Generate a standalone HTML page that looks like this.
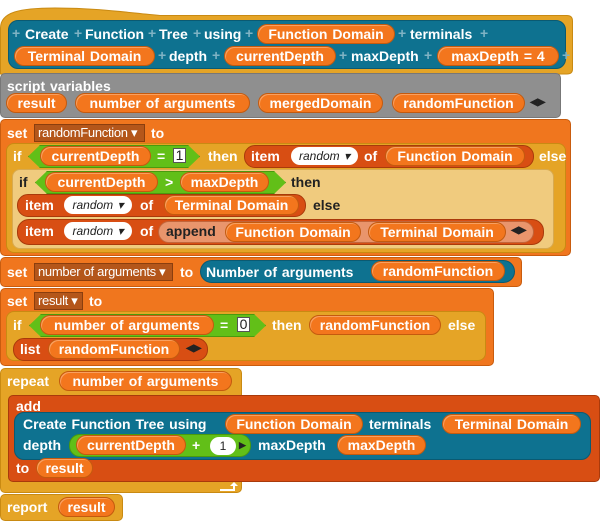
<!DOCTYPE html>
<html><head><meta charset="utf-8"><style>
*{margin:0;padding:0;box-sizing:border-box}
body{width:600px;height:525px;background:#fff;position:relative;overflow:hidden;font:bold 14px "Liberation Sans",sans-serif;color:#fff;word-spacing:1px}
div{position:absolute}
.b{border-radius:5px}
.gold{background:#E5A426;border:1px solid #c98a12}
.teal{background:#0E7290;border:1px solid #0a5a72}
.org{background:#F0761E;border:1px solid #c95c0e}
.dk{background:#D84E13;border:1px solid #a93a0b}
.gray{background:#8F8F8F;border:1px solid #777}
.zeb{background:#F0CB7E;border:1px solid #d8aa50}
.p{background:#F3761D;border:1px solid #c45a0e;border-radius:10px;height:20px;line-height:18px;text-align:center;white-space:nowrap;box-shadow:inset 1px 1px 0 #f9a060}
.t{white-space:nowrap;line-height:18px;height:18px}
.g{background:#62BF18;border:1px solid #4a9a0e;height:23px;clip-path:polygon(12px 0,calc(100% - 12px) 0,100% 50%,calc(100% - 12px) 100%,12px 100%,0 50%)}
.dd{background:#B4561A;border:1px solid #8a3e0e;color:#fff;font-weight:normal;font-size:13px;height:18px;line-height:16px;padding-left:3px;letter-spacing:-0.3px;word-spacing:0}
.w{background:#fff;color:#222;border-radius:9px;height:18px;line-height:18px;font-weight:normal;font-style:italic;font-size:12px;text-align:center}
.box{background:#fff;color:#222;border:1px solid #555;height:15px;line-height:13px;text-align:center;font-weight:normal}
.pl{color:#7fb3c4;font-weight:bold;position:absolute}
</style></head><body>
<!-- hat -->
<svg style="position:absolute;left:0;top:0" width="600" height="80"><path d="M0.5 74 V28 C0.5 12 20 8 55 8 C100 8 130 13 160 15.5 H567 Q572.5 15.5 572.5 21 V69 Q572.5 74 567 74 Z" fill="#E5A426" stroke="#c98a12"/></svg>
<div class="teal b" style="left:8px;top:20px;width:558px;height:49px;border-radius:10px"></div>
<div class="pl" style="left:12px;top:25px">+</div>
<div class="t" style="left:25px;top:25px">Create</div>
<div class="pl" style="left:74px;top:25px">+</div>
<div class="t" style="left:85px;top:25px">Function</div>
<div class="pl" style="left:148px;top:25px">+</div>
<div class="t" style="left:159px;top:25px">Tree</div>
<div class="pl" style="left:193px;top:25px">+</div>
<div class="t" style="left:204px;top:25px">using</div>
<div class="pl" style="left:245px;top:25px">+</div>
<div class="p" style="left:257px;top:24px;width:138px">Function Domain</div>
<div class="pl" style="left:398px;top:25px">+</div>
<div class="t" style="left:410px;top:25px">terminals</div>
<div class="pl" style="left:480px;top:25px">+</div>
<div class="p" style="left:14px;top:46px;width:141px">Terminal Domain</div>
<div class="pl" style="left:158px;top:47px">+</div>
<div class="t" style="left:169px;top:47px">depth</div>
<div class="pl" style="left:212px;top:47px">+</div>
<div class="p" style="left:224px;top:46px;width:112px">currentDepth</div>
<div class="pl" style="left:339px;top:47px">+</div>
<div class="t" style="left:351px;top:47px">maxDepth</div>
<div class="pl" style="left:424px;top:47px">+</div>
<div class="p" style="left:437px;top:46px;width:122px">maxDepth = 4</div>
<div class="pl" style="left:562px;top:47px">+</div>
<!-- script vars -->
<div class="gray b" style="left:0;top:73px;width:561px;height:45px"></div>
<div class="t" style="left:7px;top:77px">script variables</div>
<div class="p" style="left:6px;top:93px;width:61px">result</div>
<div class="p" style="left:75px;top:93px;width:175px">number of arguments</div>
<div class="p" style="left:258px;top:93px;width:125px">mergedDomain</div>
<div class="p" style="left:392px;top:93px;width:133px">randomFunction</div>
<div class="t" style="left:530px;top:94px;font-size:10px;color:#222">◀▶</div>
<!-- set randomFunction -->
<div class="org b" style="left:0;top:119px;width:571px;height:137px"></div>
<div class="t" style="left:7px;top:124px">set</div>
<div class="dd" style="left:34px;top:124px;width:111px">randomFunction ▾</div>
<div class="t" style="left:151px;top:124px">to</div>
<div class="gold b" style="left:6px;top:143px;width:560px;height:110px;border-radius:8px"></div>
<div class="t" style="left:13px;top:147px">if</div>
<div class="g" style="left:28px;top:145px;width:172px"></div>
<div class="p" style="left:40px;top:146px;width:111px">currentDepth</div>
<div class="t" style="left:157px;top:147px">=</div>
<div class="box" style="left:173px;top:148px;width:13px">1</div>
<div class="t" style="left:208px;top:147px">then</div>
<div class="dk" style="left:244px;top:145px;width:290px;height:23px;border-radius:11px"></div>
<div class="t" style="left:251px;top:147px">item</div>
<div class="w" style="left:291px;top:147px;width:67px">random ▾</div>
<div class="t" style="left:364px;top:147px">of</div>
<div class="p" style="left:385px;top:146px;width:140px">Function Domain</div>
<div class="t" style="left:539px;top:147px">else</div>
<div class="zeb b" style="left:12px;top:169px;width:542px;height:80px;border-radius:8px"></div>
<div class="t" style="left:19px;top:173px;color:#222">if</div>
<div class="g" style="left:35px;top:171px;width:251px"></div>
<div class="p" style="left:45px;top:172px;width:113px">currentDepth</div>
<div class="t" style="left:165px;top:173px">&gt;</div>
<div class="p" style="left:180px;top:172px;width:89px">maxDepth</div>
<div class="t" style="left:291px;top:173px;color:#222">then</div>
<div class="dk" style="left:17px;top:194px;width:289px;height:23px;border-radius:11px"></div>
<div class="t" style="left:25px;top:196px">item</div>
<div class="w" style="left:64px;top:196px;width:68px">random ▾</div>
<div class="t" style="left:140px;top:196px">of</div>
<div class="p" style="left:164px;top:195px;width:135px">Terminal Domain</div>
<div class="t" style="left:313px;top:196px;color:#222">else</div>
<div class="dk" style="left:17px;top:219px;width:527px;height:26px;border-radius:12px"></div>
<div class="t" style="left:25px;top:222px">item</div>
<div class="w" style="left:64px;top:222px;width:68px">random ▾</div>
<div class="t" style="left:140px;top:222px">of</div>
<div style="left:158px;top:221px;width:376px;height:22px;border-radius:11px;background:#E9956C;border:1px solid #c2653a"></div>
<div class="t" style="left:166px;top:222px;color:#222">append</div>
<div class="p" style="left:225px;top:222px;width:136px">Function Domain</div>
<div class="p" style="left:368px;top:222px;width:138px">Terminal Domain</div>
<div class="t" style="left:511px;top:222px;font-size:10px;color:#222">◀▶</div>
<!-- set number of arguments -->
<div class="org b" style="left:0;top:257px;width:522px;height:30px"></div>
<div class="t" style="left:7px;top:263px">set</div>
<div class="dd" style="left:34px;top:263px;width:139px">number of arguments ▾</div>
<div class="t" style="left:180px;top:263px">to</div>
<div class="teal" style="left:200px;top:260px;width:315px;height:23px;border-radius:12px"></div>
<div class="t" style="left:206px;top:263px">Number of arguments</div>
<div class="p" style="left:371px;top:261px;width:134px">randomFunction</div>
<!-- set result -->
<div class="org b" style="left:0;top:288px;width:494px;height:78px"></div>
<div class="t" style="left:7px;top:292px">set</div>
<div class="dd" style="left:34px;top:292px;width:49px">result ▾</div>
<div class="t" style="left:89px;top:292px">to</div>
<div class="gold b" style="left:6px;top:311px;width:480px;height:50px;border-radius:8px"></div>
<div class="t" style="left:13px;top:316px">if</div>
<div class="g" style="left:29px;top:314px;width:237px"></div>
<div class="p" style="left:40px;top:315px;width:174px">number of arguments</div>
<div class="t" style="left:220px;top:316px">=</div>
<div class="box" style="left:237px;top:317px;width:13px">0</div>
<div class="t" style="left:272px;top:316px">then</div>
<div class="p" style="left:309px;top:315px;width:132px">randomFunction</div>
<div class="t" style="left:448px;top:316px">else</div>
<div class="dk" style="left:13px;top:338px;width:195px;height:23px;border-radius:11px"></div>
<div class="t" style="left:20px;top:340px">list</div>
<div class="p" style="left:48px;top:339px;width:132px">randomFunction</div>
<div class="t" style="left:186px;top:340px;font-size:10px;color:#222">◀▶</div>
<!-- repeat -->
<div class="gold b" style="left:0;top:368px;width:242px;height:125px"></div>
<div class="t" style="left:7px;top:372px">repeat</div>
<div class="p" style="left:59px;top:371px;width:173px">number of arguments</div>
<svg style="position:absolute;left:218px;top:482px" width="22" height="10"><path d="M2 8 H16 V3" stroke="#fff" stroke-width="2" fill="none"/><path d="M12 4 L16 0 L20 4 Z" fill="#fff"/></svg>
<div class="dk b" style="left:8px;top:395px;width:592px;height:87px"></div>
<div class="t" style="left:16px;top:397px">add</div>
<div class="teal" style="left:14px;top:412px;width:577px;height:48px;border-radius:10px"></div>
<div class="t" style="left:23px;top:415px">Create Function Tree using</div>
<div class="p" style="left:225px;top:414px;width:138px">Function Domain</div>
<div class="t" style="left:369px;top:415px">terminals</div>
<div class="p" style="left:442px;top:414px;width:139px">Terminal Domain</div>
<div class="t" style="left:23px;top:436px">depth</div>
<div class="g" style="left:69px;top:434px;width:182px;border-radius:11px;clip-path:none"></div>
<div class="p" style="left:76px;top:435px;width:110px">currentDepth</div>
<div class="t" style="left:192px;top:436px">+</div>
<div class="w" style="left:210px;top:437px;width:26px;font-style:normal">1</div>
<div class="t" style="left:239px;top:436px;font-size:9px;color:#222">▶</div>
<div class="t" style="left:258px;top:436px">maxDepth</div>
<div class="p" style="left:337px;top:435px;width:89px">maxDepth</div>
<div class="t" style="left:16px;top:459px">to</div>
<div class="p" style="left:36px;top:458px;width:57px">result</div>
<!-- report -->
<div class="gold b" style="left:0;top:494px;width:123px;height:27px"></div>
<div class="t" style="left:7px;top:498px">report</div>
<div class="p" style="left:58px;top:497px;width:57px">result</div>
</body></html>
